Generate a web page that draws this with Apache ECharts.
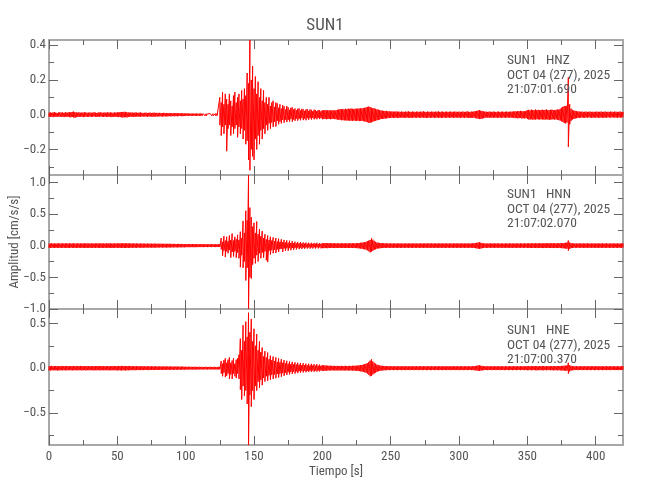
<!DOCTYPE html>
<html>
<head>
<meta charset="utf-8">
<script src="https://cdn.jsdelivr.net/npm/echarts@6/dist/echarts.min.js"></script>
<style>html,body{margin:0;padding:0;background:#fff}#c{width:650px;height:500px}</style>
</head>
<body>
<div id="c"></div>
<script>
// ---- data: per-second max / min of each trace (cm/s/s), first sample at t = 0 s ----
const STEP = 1;
const TITLE = 'SUN1';
const X_NAME = 'Tiempo [s]';
const Y_NAME = 'Amplitud [cm/s/s]';
const xMin = 0, xMax = 420;
const xMajor = [0, 50, 100, 150, 200, 250, 300, 350, 400];
const xMinor = [25, 75, 125, 175, 225, 275, 325, 375];

const hnzMax = [
.012,.014,.011,.013,.015,.012,.010,.013,.014,.012,
.013,.011,.014,.012,.013,.015,.014,.016,.018,.015,
.013,.012,.014,.011,.013,.012,.014,.013,.011,.012,
.013,.011,.012,.014,.012,.010,.013,.012,.014,.011,
.012,.013,.011,.014,.012,.013,.012,.011,.013,.012,
.014,.013,.015,.016,.015,.017,.016,.014,.013,.012,
.013,.012,.011,.013,.012,.011,.012,.013,.011,.010,
.011,.012,.010,.011,.012,.010,.011,.012,.010,.011,
.010,.011,.009,.010,.011,.009,.010,.009,.010,.009,
.009,.008,.009,.010,.008,.009,.008,.009,.008,.007,
.007,.008,.007,.006,.007,.006,.007,.006,.007,.006,
.006,.007,.006,.006,.007,.006,.005,.006,.006,.007,
.006,.005,.006,.007,.006,.100,.070,.130,.060,.120,
.090,.060,.120,.080,.050,.110,.130,.070,.100,.120,
.080,.140,.090,.150,.110,.240,.180,.430,.200,.280,
.150,.220,.120,.190,.100,.150,.080,.140,.070,.100,
.060,.100,.050,.070,.080,.045,.070,.065,.040,.060,
.035,.055,.048,.030,.050,.042,.028,.040,.042,.030,
.036,.025,.034,.036,.024,.034,.031,.022,.030,.032,
.022,.030,.028,.020,.029,.026,.021,.027,.025,.020,
.026,.025,.027,.024,.026,.025,.024,.026,.025,.024,
.026,.028,.030,.032,.031,.033,.030,.034,.032,.035,
.033,.036,.034,.032,.035,.034,.036,.035,.037,.036,
.038,.040,.042,.045,.047,.044,.040,.038,.036,.034,
.031,.029,.026,.024,.023,.022,.021,.022,.020,.019,
.018,.019,.017,.018,.019,.017,.018,.016,.018,.017,
.016,.018,.017,.019,.017,.016,.018,.017,.016,.018,
.017,.016,.018,.017,.019,.017,.016,.018,.017,.016,
.018,.017,.016,.018,.017,.019,.016,.017,.018,.016,
.017,.018,.016,.017,.018,.016,.017,.018,.017,.016,
.018,.016,.017,.018,.016,.017,.019,.017,.016,.018,
.017,.019,.020,.022,.024,.026,.023,.021,.019,.018,
.017,.016,.018,.017,.016,.018,.017,.016,.017,.018,
.016,.017,.018,.016,.017,.018,.016,.017,.018,.017,
.019,.020,.018,.021,.020,.022,.021,.019,.020,.022,
.026,.028,.025,.029,.027,.026,.030,.027,.028,.026,
.027,.029,.026,.028,.030,.027,.026,.028,.029,.027,
.026,.028,.030,.029,.034,.040,.045,.050,.048,.052,
.215,.060,.035,.028,.024,.022,.020,.019,.018,.017,
.018,.016,.017,.018,.016,.017,.018,.016,.017,.016,
.017,.018,.016,.017,.018,.016,.017,.018,.016,.017,
.016,.018,.017,.016,.018,.017,.016,.017,.018,.016,
.015
];
const hnzMin = [
-.011,-.013,-.012,-.014,-.011,-.013,-.012,-.010,-.013,-.012,
-.012,-.014,-.011,-.013,-.012,-.014,-.015,-.013,-.016,-.017,
-.014,-.012,-.013,-.011,-.012,-.014,-.012,-.011,-.013,-.012,
-.011,-.013,-.012,-.010,-.012,-.013,-.011,-.012,-.010,-.012,
-.013,-.011,-.012,-.013,-.011,-.012,-.014,-.012,-.011,-.013,
-.012,-.014,-.013,-.015,-.016,-.015,-.014,-.016,-.013,-.012,
-.012,-.011,-.013,-.012,-.010,-.012,-.011,-.012,-.010,-.011,
-.010,-.011,-.012,-.010,-.011,-.010,-.012,-.011,-.010,-.011,
-.010,-.009,-.010,-.011,-.009,-.010,-.009,-.010,-.008,-.009,
-.009,-.008,-.009,-.008,-.009,-.008,-.007,-.008,-.009,-.007,
-.007,-.006,-.007,-.006,-.007,-.006,-.006,-.007,-.006,-.006,
-.006,-.007,-.006,-.005,-.006,-.007,-.006,-.006,-.005,-.006,
-.006,-.007,-.006,-.005,-.006,-.060,-.120,-.070,-.110,-.060,
-.210,-.080,-.060,-.120,-.070,-.110,-.080,-.060,-.130,-.070,
-.110,-.080,-.140,-.090,-.170,-.150,-.260,-.320,-.200,-.240,
-.260,-.140,-.200,-.120,-.170,-.090,-.140,-.080,-.110,-.060,
-.090,-.050,-.080,-.045,-.070,-.040,-.068,-.035,-.055,-.040,
-.050,-.030,-.046,-.028,-.042,-.030,-.040,-.025,-.040,-.028,
-.035,-.022,-.034,-.024,-.032,-.020,-.031,-.022,-.032,-.020,
-.029,-.020,-.028,-.019,-.027,-.020,-.026,-.018,-.025,-.019,
-.026,-.025,-.024,-.026,-.025,-.024,-.026,-.025,-.023,-.025,
-.026,-.028,-.030,-.029,-.032,-.031,-.033,-.032,-.034,-.033,
-.035,-.034,-.036,-.033,-.035,-.036,-.034,-.037,-.036,-.035,
-.037,-.039,-.041,-.043,-.047,-.046,-.044,-.040,-.037,-.035,
-.032,-.030,-.028,-.025,-.024,-.023,-.022,-.021,-.020,-.019,
-.018,-.017,-.019,-.018,-.017,-.019,-.018,-.017,-.016,-.018,
-.017,-.018,-.016,-.017,-.019,-.017,-.018,-.016,-.017,-.018,
-.016,-.017,-.018,-.016,-.017,-.018,-.019,-.017,-.016,-.018,
-.017,-.016,-.018,-.017,-.016,-.018,-.017,-.019,-.017,-.016,
-.018,-.017,-.016,-.018,-.017,-.016,-.018,-.017,-.016,-.017,
-.017,-.018,-.016,-.017,-.018,-.016,-.017,-.018,-.019,-.017,
-.018,-.017,-.020,-.021,-.023,-.025,-.024,-.022,-.020,-.018,
-.016,-.017,-.018,-.016,-.017,-.018,-.016,-.017,-.018,-.016,
-.017,-.018,-.016,-.017,-.018,-.016,-.017,-.016,-.018,-.017,
-.018,-.020,-.019,-.021,-.020,-.019,-.022,-.020,-.021,-.020,
-.025,-.027,-.028,-.026,-.029,-.027,-.028,-.026,-.027,-.028,
-.026,-.028,-.027,-.029,-.026,-.028,-.030,-.027,-.028,-.026,
-.028,-.027,-.029,-.031,-.034,-.038,-.042,-.048,-.050,-.045,
-.185,-.055,-.035,-.028,-.024,-.022,-.020,-.019,-.018,-.017,
-.016,-.017,-.018,-.016,-.017,-.015,-.016,-.018,-.017,-.016,
-.017,-.016,-.018,-.017,-.016,-.017,-.018,-.016,-.017,-.015,
-.016,-.017,-.015,-.016,-.017,-.016,-.018,-.016,-.017,-.016,
-.015
];

const hnnMax = [
.035,.033,.037,.034,.036,.032,.035,.038,.034,.033,
.036,.034,.035,.037,.033,.036,.034,.035,.037,.034,
.033,.036,.034,.035,.033,.037,.034,.036,.035,.033,
.034,.036,.033,.035,.034,.036,.035,.033,.036,.034,
.035,.033,.036,.034,.037,.035,.033,.036,.034,.035,
.036,.034,.037,.035,.038,.036,.035,.037,.034,.036,
.034,.033,.035,.032,.034,.033,.031,.034,.032,.033,
.032,.031,.033,.030,.032,.031,.030,.032,.031,.030,
.030,.029,.031,.028,.030,.029,.028,.030,.029,.028,
.028,.027,.028,.026,.027,.028,.026,.027,.025,.026,
.025,.024,.026,.024,.025,.023,.024,.025,.023,.024,
.023,.022,.024,.023,.022,.023,.021,.022,.023,.022,
.022,.021,.023,.022,.021,.023,.120,.060,.150,.080,
.140,.070,.160,.090,.190,.080,.140,.100,.170,.090,
.220,.120,.390,.200,.550,.400,1.115,.600,.450,.300,
.360,.200,.380,.180,.260,.150,.230,.120,.180,.100,
.160,.090,.140,.080,.130,.070,.120,.065,.110,.060,
.100,.055,.090,.050,.082,.045,.078,.042,.070,.040,
.062,.038,.058,.035,.055,.033,.050,.032,.048,.030,
.046,.030,.044,.029,.043,.030,.045,.028,.041,.028,
.040,.039,.040,.038,.039,.040,.037,.038,.036,.037,
.036,.037,.035,.036,.037,.035,.036,.037,.035,.036,
.037,.036,.038,.037,.036,.038,.040,.042,.045,.048,
.050,.055,.060,.070,.080,.090,.115,.095,.075,.060,
.050,.046,.042,.040,.038,.037,.036,.035,.036,.034,
.035,.034,.033,.035,.034,.033,.035,.034,.033,.034,
.033,.035,.034,.033,.035,.034,.033,.035,.034,.033,
.034,.033,.035,.034,.033,.035,.034,.033,.035,.034,
.035,.034,.033,.035,.034,.033,.035,.034,.033,.035,
.034,.035,.033,.034,.035,.033,.034,.035,.034,.033,
.035,.033,.034,.035,.033,.034,.035,.033,.034,.035,
.036,.038,.040,.044,.050,.052,.046,.040,.037,.035,
.034,.033,.035,.034,.033,.035,.034,.033,.035,.034,
.033,.035,.034,.033,.035,.034,.033,.035,.034,.033,
.034,.033,.035,.034,.033,.035,.034,.033,.035,.034,
.035,.036,.034,.037,.035,.036,.037,.035,.036,.037,
.036,.037,.035,.038,.036,.037,.038,.036,.037,.038,
.037,.036,.038,.037,.038,.037,.040,.042,.045,.048,
.080,.050,.040,.036,.035,.034,.033,.034,.035,.033,
.034,.035,.033,.034,.035,.033,.034,.033,.035,.034,
.033,.034,.035,.033,.034,.035,.033,.034,.035,.033,
.034,.033,.035,.034,.033,.035,.034,.033,.034,.035,
.033
];
const hnnMin = [
-.034,-.036,-.033,-.035,-.037,-.034,-.036,-.033,-.035,-.036,
-.033,-.035,-.036,-.034,-.037,-.035,-.033,-.036,-.034,-.035,
-.036,-.034,-.035,-.033,-.036,-.034,-.035,-.037,-.034,-.035,
-.035,-.033,-.036,-.034,-.035,-.033,-.036,-.034,-.035,-.036,
-.034,-.035,-.033,-.036,-.034,-.035,-.037,-.034,-.035,-.033,
-.035,-.036,-.034,-.037,-.035,-.036,-.038,-.035,-.036,-.034,
-.033,-.034,-.032,-.034,-.033,-.031,-.033,-.032,-.034,-.032,
-.031,-.032,-.030,-.032,-.031,-.030,-.032,-.031,-.030,-.031,
-.029,-.030,-.028,-.030,-.029,-.028,-.030,-.029,-.028,-.029,
-.027,-.028,-.026,-.027,-.028,-.026,-.027,-.025,-.026,-.027,
-.024,-.025,-.023,-.025,-.024,-.023,-.025,-.024,-.023,-.024,
-.022,-.023,-.022,-.024,-.022,-.021,-.023,-.022,-.021,-.023,
-.021,-.022,-.023,-.021,-.022,-.021,-.060,-.160,-.080,-.180,
-.090,-.120,-.070,-.190,-.100,-.170,-.090,-.190,-.110,-.200,
-.340,-.150,-.350,-.250,-.550,-.350,-1.000,-.500,-.520,-.300,
-.200,-.280,-.150,-.250,-.120,-.200,-.110,-.190,-.090,-.230,
-.260,-.080,-.140,-.070,-.120,-.065,-.115,-.060,-.100,-.055,
-.050,-.100,-.045,-.085,-.042,-.080,-.040,-.072,-.038,-.066,
-.035,-.060,-.033,-.055,-.032,-.052,-.030,-.049,-.030,-.046,
-.028,-.046,-.028,-.045,-.027,-.044,-.028,-.043,-.027,-.042,
-.039,-.040,-.038,-.039,-.040,-.037,-.038,-.036,-.037,-.038,
-.036,-.035,-.037,-.036,-.035,-.037,-.036,-.035,-.037,-.036,
-.036,-.037,-.036,-.038,-.037,-.039,-.041,-.043,-.046,-.050,
-.055,-.058,-.065,-.075,-.090,-.105,-.095,-.080,-.065,-.058,
-.048,-.044,-.041,-.039,-.037,-.036,-.035,-.034,-.035,-.034,
-.034,-.035,-.033,-.034,-.035,-.033,-.034,-.035,-.034,-.033,
-.035,-.033,-.034,-.035,-.033,-.034,-.035,-.033,-.034,-.035,
-.033,-.034,-.035,-.033,-.034,-.035,-.033,-.034,-.035,-.033,
-.034,-.035,-.033,-.034,-.035,-.033,-.034,-.035,-.033,-.034,
-.035,-.033,-.034,-.035,-.033,-.034,-.035,-.033,-.034,-.035,
-.033,-.034,-.035,-.033,-.034,-.035,-.033,-.034,-.035,-.033,
-.035,-.037,-.039,-.043,-.048,-.050,-.045,-.040,-.036,-.034,
-.035,-.034,-.033,-.035,-.034,-.033,-.035,-.034,-.033,-.035,
-.034,-.033,-.035,-.034,-.033,-.035,-.034,-.033,-.035,-.034,
-.033,-.035,-.034,-.033,-.035,-.034,-.033,-.035,-.034,-.033,
-.036,-.035,-.037,-.036,-.035,-.037,-.036,-.038,-.035,-.036,
-.037,-.036,-.038,-.035,-.037,-.036,-.038,-.037,-.036,-.038,
-.036,-.038,-.037,-.036,-.038,-.039,-.041,-.043,-.046,-.049,
-.080,-.050,-.040,-.036,-.034,-.035,-.033,-.034,-.033,-.035,
-.033,-.034,-.035,-.033,-.034,-.035,-.033,-.034,-.035,-.033,
-.034,-.035,-.033,-.034,-.035,-.033,-.034,-.035,-.033,-.034,
-.035,-.033,-.034,-.035,-.033,-.034,-.035,-.033,-.034,-.035,
-.033
];

const hneMax = [
.025,.023,.026,.022,.024,.025,.023,.024,.022,.025,
.023,.024,.022,.025,.023,.022,.024,.023,.025,.022,
.024,.022,.023,.025,.022,.024,.023,.022,.024,.023,
.022,.024,.023,.022,.024,.023,.025,.022,.023,.024,
.023,.022,.024,.023,.022,.024,.023,.025,.022,.023,
.024,.025,.023,.026,.024,.025,.023,.024,.025,.023,
.022,.023,.021,.022,.023,.021,.022,.020,.022,.021,
.021,.020,.022,.021,.020,.021,.019,.021,.020,.019,
.020,.019,.020,.018,.019,.020,.018,.019,.018,.019,
.018,.017,.018,.019,.017,.018,.016,.017,.018,.016,
.016,.015,.016,.015,.016,.014,.015,.016,.014,.015,
.015,.014,.015,.013,.014,.015,.013,.014,.015,.013,
.014,.015,.013,.014,.015,.014,.080,.050,.090,.110,
.060,.095,.120,.060,.085,.110,.050,.095,.110,.150,
.330,.200,.480,.300,.520,.350,.620,.400,.550,.300,
.440,.250,.380,.200,.300,.180,.230,.130,.190,.120,
.175,.100,.140,.090,.130,.080,.120,.070,.110,.065,
.100,.060,.090,.055,.082,.050,.075,.045,.070,.042,
.065,.040,.060,.038,.058,.035,.055,.033,.050,.032,
.050,.030,.048,.030,.045,.028,.045,.027,.040,.026,
.035,.032,.030,.029,.028,.027,.027,.026,.026,.025,
.025,.026,.024,.025,.026,.024,.025,.026,.024,.025,
.026,.025,.027,.026,.028,.027,.030,.032,.034,.036,
.040,.045,.050,.055,.070,.085,.100,.075,.060,.050,
.040,.035,.030,.028,.026,.025,.024,.023,.022,.022,
.021,.022,.020,.022,.021,.020,.022,.021,.020,.022,
.021,.020,.022,.021,.020,.022,.021,.020,.022,.021,
.020,.022,.021,.020,.022,.021,.020,.022,.021,.020,
.022,.021,.020,.022,.021,.020,.022,.021,.020,.022,
.021,.020,.022,.021,.020,.022,.021,.020,.022,.021,
.020,.022,.021,.020,.022,.021,.020,.022,.021,.020,
.022,.023,.025,.027,.030,.032,.028,.025,.023,.022,
.021,.020,.022,.021,.020,.022,.021,.020,.022,.021,
.020,.022,.021,.020,.022,.021,.020,.022,.021,.020,
.022,.021,.020,.022,.021,.020,.022,.021,.020,.022,
.022,.023,.021,.023,.022,.024,.022,.023,.021,.023,
.022,.023,.024,.022,.023,.021,.023,.022,.024,.022,
.023,.022,.024,.023,.024,.025,.026,.027,.028,.030,
.060,.035,.026,.023,.022,.021,.022,.020,.021,.022,
.021,.020,.022,.021,.020,.022,.021,.020,.022,.021,
.020,.022,.021,.020,.022,.021,.020,.022,.021,.020,
.022,.021,.020,.022,.021,.020,.022,.021,.020,.022,
.021
];
const hneMin = [
-.024,-.026,-.023,-.025,-.022,-.024,-.026,-.023,-.025,-.022,
-.024,-.022,-.025,-.023,-.024,-.022,-.023,-.025,-.022,-.024,
-.022,-.024,-.023,-.022,-.025,-.023,-.022,-.024,-.023,-.022,
-.024,-.022,-.023,-.025,-.022,-.024,-.022,-.023,-.024,-.022,
-.023,-.024,-.022,-.023,-.025,-.022,-.024,-.023,-.022,-.024,
-.025,-.023,-.024,-.026,-.023,-.024,-.025,-.023,-.024,-.022,
-.023,-.021,-.022,-.023,-.021,-.022,-.020,-.022,-.021,-.022,
-.020,-.021,-.020,-.022,-.020,-.019,-.021,-.020,-.019,-.020,
-.019,-.020,-.018,-.019,-.020,-.018,-.019,-.018,-.019,-.018,
-.017,-.018,-.016,-.018,-.017,-.016,-.018,-.017,-.016,-.017,
-.015,-.016,-.014,-.016,-.015,-.014,-.016,-.015,-.014,-.015,
-.014,-.013,-.015,-.014,-.013,-.014,-.015,-.013,-.014,-.013,
-.015,-.013,-.014,-.015,-.013,-.014,-.060,-.090,-.050,-.100,
-.085,-.060,-.120,-.070,-.120,-.060,-.090,-.110,-.060,-.120,
-.240,-.350,-.200,-.310,-.250,-.400,-.860,-.300,-.430,-.250,
-.350,-.200,-.250,-.150,-.220,-.130,-.190,-.110,-.150,-.090,
-.140,-.080,-.130,-.075,-.120,-.070,-.112,-.065,-.104,-.060,
-.095,-.055,-.085,-.050,-.075,-.045,-.070,-.042,-.064,-.040,
-.060,-.036,-.055,-.034,-.050,-.032,-.048,-.030,-.045,-.030,
-.042,-.028,-.040,-.027,-.040,-.026,-.038,-.025,-.036,-.024,
-.032,-.030,-.028,-.027,-.026,-.026,-.025,-.025,-.024,-.025,
-.026,-.024,-.025,-.026,-.024,-.025,-.026,-.024,-.025,-.026,
-.025,-.026,-.027,-.026,-.028,-.029,-.031,-.033,-.035,-.038,
-.042,-.046,-.052,-.060,-.075,-.090,-.085,-.070,-.058,-.050,
-.040,-.034,-.030,-.027,-.025,-.024,-.023,-.022,-.021,-.022,
-.021,-.020,-.022,-.021,-.020,-.022,-.021,-.020,-.022,-.021,
-.020,-.022,-.021,-.020,-.022,-.021,-.020,-.022,-.021,-.020,
-.022,-.021,-.020,-.022,-.021,-.020,-.022,-.021,-.020,-.022,
-.021,-.020,-.022,-.021,-.020,-.022,-.021,-.020,-.022,-.021,
-.020,-.022,-.021,-.020,-.022,-.021,-.020,-.022,-.021,-.020,
-.022,-.021,-.020,-.022,-.021,-.020,-.022,-.021,-.020,-.022,
-.021,-.023,-.024,-.026,-.029,-.031,-.027,-.024,-.022,-.021,
-.020,-.022,-.021,-.020,-.022,-.021,-.020,-.022,-.021,-.020,
-.022,-.021,-.020,-.022,-.021,-.020,-.022,-.021,-.020,-.022,
-.021,-.020,-.022,-.021,-.020,-.022,-.021,-.020,-.022,-.021,
-.023,-.022,-.021,-.023,-.022,-.021,-.023,-.024,-.022,-.021,
-.023,-.022,-.024,-.021,-.023,-.022,-.021,-.023,-.022,-.024,
-.022,-.023,-.024,-.022,-.025,-.024,-.026,-.027,-.028,-.029,
-.060,-.035,-.026,-.023,-.022,-.021,-.020,-.022,-.021,-.020,
-.022,-.021,-.020,-.022,-.021,-.020,-.022,-.021,-.020,-.022,
-.021,-.020,-.022,-.021,-.020,-.022,-.021,-.020,-.022,-.021,
-.020,-.022,-.021,-.020,-.022,-.021,-.020,-.022,-.021,-.020,
-.020
];

const traceMax = [hnzMax, hnnMax, hneMax];
const traceMin = [hnzMin, hnnMin, hneMin];
const yMins = [-0.347, -1.0, -0.858];
const yMaxs = [0.43, 1.115, 0.661];
const yMajorTicks = [[0.4, 0.2, 0.0, -0.2], [1.0, 0.5, 0.0, -0.5, -1.0], [0.5, 0.0, -0.5]];
const yMinorTicks = [[0.3, 0.1, -0.1, -0.3], [0.75, 0.25, -0.25, -0.75], [0.25, -0.25, -0.75]];
const infoLines = [
  ['SUN1   HNZ', 'OCT 04 (277), 2025', '21:07:01.690'],
  ['SUN1   HNN', 'OCT 04 (277), 2025', '21:07:02.070'],
  ['SUN1   HNE', 'OCT 04 (277), 2025', '21:07:00.370']
];

// ---- layout / style ----
const FONT = "Roboto, 'DejaVu Sans Condensed', sans-serif";
const FW = 'condensed';          // goes into the canvas font shorthand as font-stretch
const TXT = '#555555';
const frame = { color: '#a8a8a8', width: 2 };
const tickStyle = { color: '#666666', width: 1 };
const gridBoxes = [
  { top: 40, height: 135 },
  { top: 175, height: 134 },
  { top: 309, height: 136 }
];
const infoTop = [54, 188, 324];

const chart = echarts.init(document.getElementById('c'), null, { renderer: 'canvas' });

const grid = gridBoxes.map(b => ({ left: 49, right: 27, top: b.top, height: b.height, outerBoundsMode: 'none', containLabel: false }));
const xAxis = [], yAxis = [], series = [], graphic = [];
const txt = (size) => ({ color: TXT, fontSize: size, fontFamily: FONT, fontWeight: FW });

traceMax.forEach((vmax, g) => {
  const vmin = traceMin[g];
  const base = { type: 'value', gridIndex: g, min: xMin, max: xMax, splitLine: { show: false } };
  xAxis.push(Object.assign({}, base, {
    position: 'bottom',
    axisLine: { show: true, onZero: false, lineStyle: frame },
    axisTick: { show: true, inside: true, length: 9, customValues: xMajor, lineStyle: tickStyle },
    axisLabel: Object.assign({ show: g === 2, customValues: xMajor, margin: 5 }, txt(13))
  }));
  xAxis.push(Object.assign({}, base, {
    position: 'bottom',
    axisLine: { show: false, onZero: false },
    axisTick: { show: true, inside: true, length: 5, customValues: xMinor, lineStyle: tickStyle },
    axisLabel: { show: false }
  }));
  xAxis.push(Object.assign({}, base, {
    position: 'top',
    axisLine: { show: true, onZero: false, lineStyle: frame },
    axisTick: { show: true, inside: true, length: 9, customValues: xMajor, lineStyle: tickStyle },
    axisLabel: { show: false }
  }));
  xAxis.push(Object.assign({}, base, {
    position: 'top',
    axisLine: { show: false, onZero: false },
    axisTick: { show: true, inside: true, length: 5, customValues: xMinor, lineStyle: tickStyle },
    axisLabel: { show: false }
  }));

  const ybase = { type: 'value', gridIndex: g, min: yMins[g], max: yMaxs[g], splitLine: { show: false } };
  yAxis.push(Object.assign({}, ybase, {
    position: 'left',
    axisLine: { show: true, onZero: false, lineStyle: frame },
    axisTick: { show: true, inside: true, length: 9, customValues: yMajorTicks[g], lineStyle: tickStyle },
    axisLabel: Object.assign({ show: true, customValues: yMajorTicks[g], margin: 3,
      formatter: v => v.toFixed(1).replace('-', '\u2212') }, txt(13))
  }));
  yAxis.push(Object.assign({}, ybase, {
    position: 'left',
    axisLine: { show: false, onZero: false },
    axisTick: { show: true, inside: true, length: 5, customValues: yMinorTicks[g], lineStyle: tickStyle },
    axisLabel: { show: false }
  }));
  yAxis.push(Object.assign({}, ybase, {
    position: 'right',
    axisLine: { show: true, onZero: false, lineStyle: frame },
    axisTick: { show: true, inside: true, length: 9, customValues: yMajorTicks[g], lineStyle: tickStyle },
    axisLabel: { show: false }
  }));
  yAxis.push(Object.assign({}, ybase, {
    position: 'right',
    axisLine: { show: false, onZero: false },
    axisTick: { show: true, inside: true, length: 5, customValues: yMinorTicks[g], lineStyle: tickStyle },
    axisLabel: { show: false }
  }));

  // each second: a vertical stroke from the max to the min, like a decimated seismogram
  const pts = [];
  vmax.forEach((hi, i) => { pts.push([i * STEP, hi]); pts.push([i * STEP, vmin[i]]); });
  series.push({
    type: 'line', xAxisIndex: 4 * g, yAxisIndex: 4 * g, data: pts,
    showSymbol: false, symbol: 'none', silent: true, animation: false,
    lineStyle: { color: '#ff0000', width: 1 }, z: 1
  });

  infoLines[g].forEach((line, k) => {
    graphic.push({
      type: 'text', left: 507, top: infoTop[g] + k * 14.5, silent: true, z: 10,
      style: { text: line, fill: TXT, fontSize: 13.5, fontFamily: FONT, fontWeight: FW }
    });
  });
});

// axis titles
graphic.push({
  type: 'text', x: 15, y: 242, rotation: Math.PI / 2, silent: true, z: 10,
  style: { text: Y_NAME, fill: TXT, fontSize: 13, fontFamily: FONT, fontWeight: FW, align: 'center', verticalAlign: 'middle' }
});
graphic.push({
  type: 'text', x: 336, y: 472, silent: true, z: 10,
  style: { text: X_NAME, fill: TXT, fontSize: 13, fontFamily: FONT, fontWeight: FW, align: 'center', verticalAlign: 'middle' }
});

chart.setOption({
  animation: false,
  backgroundColor: '#ffffff',
  title: { text: TITLE, left: 'center', top: 12, textStyle: { fontSize: 17, fontWeight: FW, color: TXT, fontFamily: FONT } },
  grid, xAxis, yAxis, series, graphic
});
</script>
</body>
</html>
